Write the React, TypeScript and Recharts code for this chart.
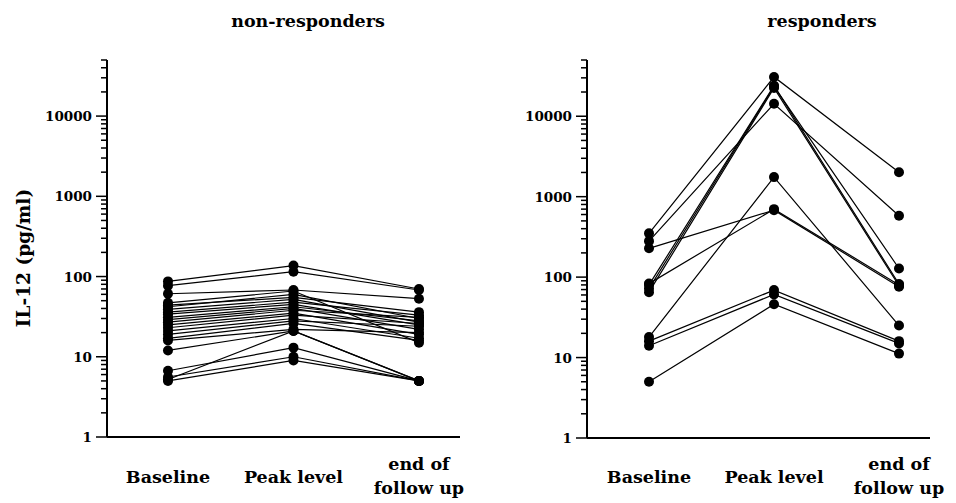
import { LineChart, Line, XAxis, YAxis } from 'recharts';

// IL-12 (pg/ml) per patient at the three time points
const nonBaseline = [87, 77, 61, 47, 44, 42, 39, 36, 34, 31, 29, 27, 25, 23, 21, 19, 17, 16, 12, 6.7, 5.6, 5.0, 5.2];
const nonPeak = [137, 115, 68, 66, 55, 60, 52, 48, 45, 42, 40, 38, 35, 33, 30, 28, 26, 22, 21, 13, 10, 9, 21];
const nonEnd = [70, 68, 53, 15, 36, 30, 27, 33, 25, 28, 22, 31, 19, 26, 17, 24, 16, 20, 5, 5, 5, 5, 5];

const resBaseline = [350, 280, 228, 83, 80, 72, 65, 18, 16, 14, 5];
const resPeak = [30800, 14300, 680, 700, 24000, 23500, 22500, 1750, 69, 61, 46];
const resEnd = [2015, 580, 76, 80, 82, 128, 78, 25, 16, 15, 11.2];

const categories = ['Baseline', 'Peak level', 'end of\nfollow up'];
const majorTicks = [1, 10, 100, 1000, 10000];
const minorSteps = [2, 3, 4, 5, 6, 7, 8, 9];

const FONT = '"DejaVu Serif", serif';
const TICK_SIZE = 10;
const TICK_MARGIN = 2;

// every tick of the log axis: decades plus 2..9 multiples, up to 50000
const allTicks: number[] = [];
majorTicks.forEach((d) => {
  allTicks.push(d);
  minorSteps.forEach((m) => {
    if (d * m <= 50000) allTicks.push(d * m);
  });
});

function toSeries(base: number[], peak: number[], end: number[]) {
  return base.map((b, i) => [
    { t: 1, v: b },
    { t: 2, v: peak[i] },
    { t: 3, v: end[i] },
  ]);
}

const LogTick = ({ x, y, payload }: any) => {
  const v = payload.value;
  const major = majorTicks.includes(v);
  const ax = x + TICK_SIZE + TICK_MARGIN;
  return (
    <g>
      <line
        x1={ax - (major ? 11 : 6)}
        x2={ax}
        y1={y}
        y2={y}
        stroke="#000"
        strokeWidth={1.5}
      />
      {major && (
        <text
          x={ax - 15}
          y={y}
          dy={5}
          textAnchor="end"
          fontFamily={FONT}
          fontWeight="bold"
          fontSize={13.5}
          fill="#000"
        >
          {v}
        </text>
      )}
    </g>
  );
};

const CatTick = ({ x, payload }: any) => {
  const label = categories[payload.value - 1];
  if (!label) return null;
  const lines = label.split('\n');
  const top = lines.length === 1 ? 483 : 470;
  return (
    <text
      x={x}
      y={top}
      textAnchor="middle"
      fontFamily={FONT}
      fontWeight="bold"
      fontSize={17.5}
      fill="#000"
    >
      {lines.map((l: string, i: number) => (
        <tspan key={i} x={x} dy={i === 0 ? 0 : 24}>
          {l}
        </tspan>
      ))}
    </text>
  );
};

interface PanelProps {
  series: { t: number; v: number }[][];
  width: number;
  bottom: number;
  right: number;
  xDomain: [number, number];
}

function Panel({ series, width, bottom, right, xDomain }: PanelProps) {
  return (
    <LineChart
      width={width}
      height={503}
      margin={{ top: 60, right, left: 0, bottom: 0 }}
    >
      <XAxis
        type="number"
        dataKey="t"
        domain={xDomain}
        ticks={[1, 2, 3]}
        allowDataOverflow
        height={503 - bottom}
        tickLine={false}
        axisLine={{ stroke: '#000', strokeWidth: 2 }}
        tick={<CatTick />}
        interval={0}
      />
      <YAxis
        type="number"
        scale="log"
        domain={[1, 50000]}
        allowDataOverflow
        ticks={allTicks}
        interval={0}
        width={107}
        tickSize={TICK_SIZE}
        tickMargin={TICK_MARGIN}
        tickLine={false}
        axisLine={{ stroke: '#000', strokeWidth: 2 }}
        tick={<LogTick />}
      />
      {series.map((s, i) => (
        <Line
          key={i}
          data={s}
          dataKey="v"
          stroke="#000"
          strokeWidth={1.2}
          dot={{ r: 5, fill: '#000', stroke: '#000', strokeWidth: 0 }}
          activeDot={false}
          isAnimationActive={false}
        />
      ))}
    </LineChart>
  );
}

export default function App() {
  const titleStyle: React.CSSProperties = {
    position: 'absolute',
    top: 11,
    fontFamily: FONT,
    fontWeight: 'bold',
    fontSize: 17.5,
    transform: 'translateX(-50%)',
    whiteSpace: 'nowrap',
  };
  return (
    <div style={{ position: 'absolute', left: 0, top: 0, width: 956, height: 503, background: '#fff' }}>
      <div style={{ position: 'absolute', left: 0, top: 0 }}>
        <Panel
          series={toSeries(nonBaseline, nonPeak, nonEnd)}
          width={480}
          bottom={437}
          right={20}
          xDomain={[0.514, 3.327]}
        />
      </div>
      <div style={{ position: 'absolute', left: 480, top: 0 }}>
        <Panel
          series={toSeries(resBaseline, resPeak, resEnd)}
          width={476}
          bottom={438}
          right={26}
          xDomain={[0.504, 3.248]}
        />
      </div>
      <div style={{ ...titleStyle, left: 308 }}>non-responders</div>
      <div style={{ ...titleStyle, left: 822 }}>responders</div>
      <div
        style={{
          position: 'absolute',
          left: 23,
          top: 258,
          transform: 'translate(-50%, -50%) rotate(-90deg)',
          fontFamily: FONT,
          fontWeight: 'bold',
          fontSize: 18.5,
          whiteSpace: 'nowrap',
        }}
      >
        IL-12 (pg/ml)
      </div>
    </div>
  );
}
